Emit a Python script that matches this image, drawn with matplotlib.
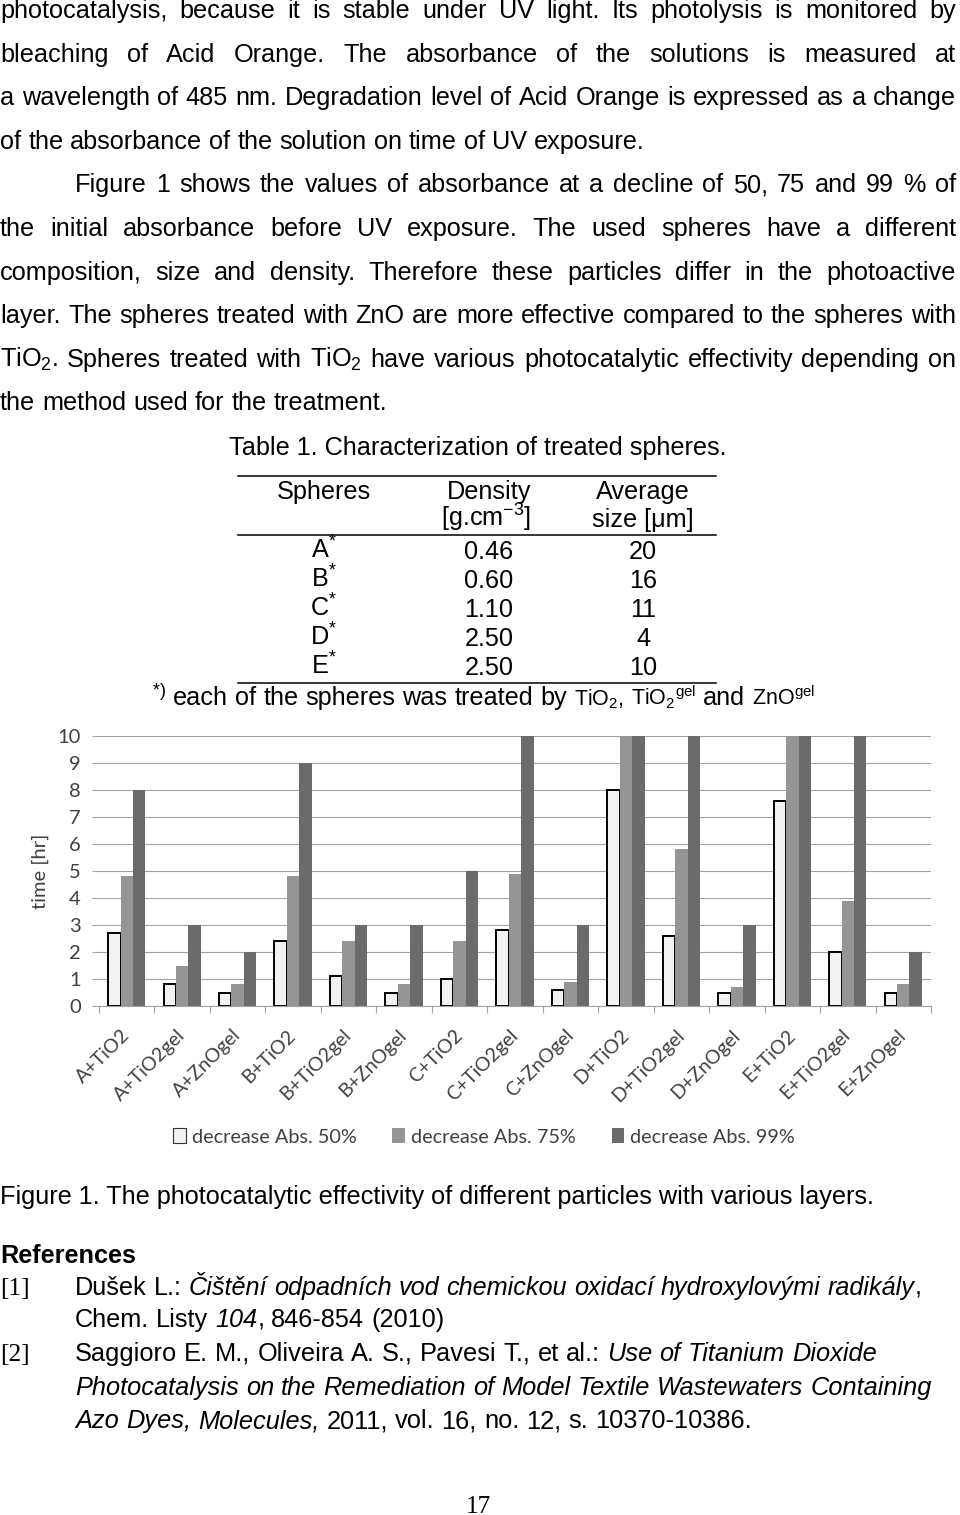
import matplotlib
matplotlib.use("Agg")
import matplotlib.pyplot as plt
from matplotlib import font_manager
from matplotlib.patches import Patch
import numpy as np

# ── data ────────────────────────────────────────────────────────────────────
categories = ["A+TiO2", "A+TiO2gel", "A+ZnOgel", "B+TiO2", "B+TiO2gel", "B+ZnOgel",
              "C+TiO2", "C+TiO2gel", "C+ZnOgel", "D+TiO2", "D+TiO2gel", "D+ZnOgel",
              "E+TiO2", "E+TiO2gel", "E+ZnOgel"]
abs50 = [2.7, 0.8, 0.5, 2.4, 1.1, 0.5, 1.0, 2.8, 0.6, 8.0, 2.6, 0.5, 7.6, 2.0, 0.5]
abs75 = [4.8, 1.5, 0.8, 4.8, 2.4, 0.8, 2.4, 4.9, 0.9, 10, 5.8, 0.7, 10, 3.9, 0.8]
abs99 = [8, 3, 2, 9, 3, 3, 5, 10, 3, 10, 10, 3, 10, 10, 2]
series_labels = ["decrease Abs. 50%", "decrease Abs. 75%", "decrease Abs. 99%"]
y_ticks = list(range(0, 11))

spheres = ["A", "B", "C", "D", "E"]
density = ["0.46", "0.60", "1.10", "2.50", "2.50"]
avg_size = ["20", "16", "11", "4", "10"]

body_lines = [
    "photocatalysis, because it is stable under UV light. Its photolysis is monitored by",
    "bleaching of Acid Orange. The absorbance of the solutions is measured at",
    "a wavelength of 485 nm. Degradation level of Acid Orange is expressed as a change",
    "of the absorbance of the solution on time of UV exposure.",
    "Figure 1 shows the values of absorbance at a decline of 50, 75 and 99 % of",
    "the initial absorbance before UV exposure. The used spheres have a different",
    "composition, size and density. Therefore these particles differ in the photoactive",
    "layer. The spheres treated with ZnO are more effective compared to the spheres with",
    "TiO$_2$. Spheres treated with TiO$_2$ have various photocatalytic effectivity depending on",
    "the method used for the treatment.",
]
body_indent = [0, 0, 0, 0, 75, 0, 0, 0, 0, 0]
body_justify = [True, True, True, False, True, True, True, True, True, False]

# ── setup ───────────────────────────────────────────────────────────────────
plt.rcParams["mathtext.fontset"] = "custom"
plt.rcParams["mathtext.rm"] = "Liberation Sans"
plt.rcParams["mathtext.it"] = "Liberation Sans:italic"
plt.rcParams["mathtext.default"] = "regular"


def has_font(name):
    try:
        font_manager.findfont(font_manager.FontProperties(family=name),
                              fallback_to_default=False)
        return True
    except ValueError:
        return False


NARROW = "Liberation Sans Narrow" if has_font("Liberation Sans Narrow") else "Liberation Sans"

FS = 18.2
BODY = dict(family="Liberation Sans", size=FS, color="black")
IT = dict(style="italic")
REG = {}

fig = plt.figure(figsize=(9.6, 15.15), dpi=100)
page = fig.add_axes([0, 0, 1, 1])
page.set_xlim(0, 960)
page.set_ylim(1515, 0)
page.axis("off")
R = fig.canvas.get_renderer()


def words_from_runs(runs):
    words = [[]]
    for text, kw in runs:
        parts = text.split(" ")
        for i, p in enumerate(parts):
            if i > 0:
                words.append([])
            if p:
                words[-1].append((p, kw))
    return [w for w in words if w]


def put_words(words, x0, y, x1=None, base=BODY, gap=None):
    objs, widths = [], []
    for w in words:
        wo, ww = [], 0.0
        for s, kw in w:
            t = page.text(0, y, s, va="baseline", ha="left", **{**base, **kw})
            wo.append((t, ww))
            ww += t.get_window_extent(renderer=R).width
        objs.append(wo)
        widths.append(ww)
    if x1 is not None and len(words) > 1:
        gap = (x1 - x0 - sum(widths)) / (len(words) - 1)
    elif gap is None:
        gap = base["size"] * 100 / 72 * 0.278
    x = x0
    for wo, ww in zip(objs, widths):
        for t, off in wo:
            t.set_x(x + off)
        x += ww + gap
    return x - gap


# ── body text ───────────────────────────────────────────────────────────────
for i, line in enumerate(body_lines):
    y = 18 + 43.6 * i
    put_words(words_from_runs([(line, REG)]), body_indent[i], y,
              x1=956 if body_justify[i] else None)

# ── table ───────────────────────────────────────────────────────────────────
page.text(478, 455, "Table 1. Characterization of treated spheres.", ha="center",
          va="baseline", **BODY)
for yr in (476, 535, 683):
    page.plot([238, 716], [yr, yr], color="black", lw=1.1)
col_x = [324, 489, 643]
page.text(col_x[0], 499, "Spheres", ha="center", va="baseline", **BODY)
page.text(col_x[1], 499, "Density", ha="center", va="baseline", **BODY)
page.text(col_x[2], 499, "Average", ha="center", va="baseline", **BODY)
page.text(486, 527, "[g.cm$^{-3}$]", ha="center", va="baseline", **BODY)
page.text(col_x[2], 527, "size [μm]", ha="center", va="baseline", **BODY)
for i, (s, d, a) in enumerate(zip(spheres, density, avg_size)):
    y = 559 + 29 * i
    page.text(col_x[0], y, s + "$^{*}$", ha="center", va="baseline", **BODY)
    page.text(col_x[1], y, d, ha="center", va="baseline", **BODY)
    page.text(col_x[2], y, a, ha="center", va="baseline", **BODY)

small = dict(size=15.5)
put_words(words_from_runs([("$^{*)}$", REG), (" each of the spheres was treated by ", REG),
                           ("TiO$_2$, TiO$_2$$^{gel}$", small), (" and ", REG),
                           ("ZnO$^{gel}$", small)]), 152, 705)

# ── chart ───────────────────────────────────────────────────────────────────
GRID = "#a3a3a3"
TXT = "#404040"
ax = fig.add_axes([99 / 960, (1515 - 1006) / 1515, 832 / 960, 270 / 1515])
x = np.arange(len(categories))
w = 0.224
ax.bar(x - w, abs50, w, color="#f2f2f2", edgecolor="black", lw=1.4)
ax.bar(x, abs75, w, color="#959595", lw=0)
ax.bar(x + w, abs99, w, color="#6b6b6b", lw=0)
ax.set_xlim(-0.5, len(categories) - 0.5)
ax.set_ylim(0, 10)
ax.set_yticks(y_ticks)
ax.yaxis.grid(True, color=GRID, lw=0.8)
ax.set_axisbelow(True)
for side in ("top", "right", "left"):
    ax.spines[side].set_visible(False)
ax.spines["bottom"].set_color(GRID)
ax.spines["bottom"].set_linewidth(0.8)
ax.tick_params(axis="y", length=5, width=0.8, color=GRID, pad=8,
               labelsize=14.5, labelcolor=TXT)
for lab in ax.get_yticklabels():
    lab.set_fontfamily("Lato")
ax.set_xticks(x)
ax.set_xticklabels(categories, rotation=45, ha="right", va="center",
                   rotation_mode="anchor", fontfamily="Lato", fontsize=14, color=TXT)
ax.tick_params(axis="x", which="major", length=0, pad=19)
ax.set_xticks(np.arange(-0.5, len(categories), 1), minor=True)
ax.tick_params(axis="x", which="minor", length=5, width=0.8, color=GRID)

page.text(40, 871, "time [hr]", rotation=90, ha="center", va="center",
          family="Lato", size=14.5, color=TXT)

handles = [Patch(facecolor="#f2f2f2", edgecolor="#333333", lw=0.8),
           Patch(facecolor="#959595", lw=0),
           Patch(facecolor="#6b6b6b", lw=0)]
fig.legend(handles, series_labels, loc="center", bbox_to_anchor=(484 / 960, 1 - 1137 / 1515),
           ncol=3, frameon=False, prop=dict(family="Lato", size=14.3), labelcolor=TXT,
           handlelength=0.65, handleheight=0.8, handletextpad=0.3, columnspacing=1.8)

# ── caption & references ────────────────────────────────────────────────────
page.text(0, 1204, "Figure 1. The photocatalytic effectivity of different particles with various layers.",
          va="baseline", **BODY)
page.text(0, 1263, "References", va="baseline", weight="bold", **BODY)
page.text(0, 1295, "[1]", va="baseline", family="Liberation Serif", size=FS)
put_words(words_from_runs([("Dušek L.: ", REG),
                           ("Čištění odpadních vod chemickou oxidací hydroxylovými radikály", IT),
                           (",", REG)]), 75, 1295)
put_words(words_from_runs([("Chem. Listy ", REG), ("104", IT), (", 846-854 (2010)", REG)]), 75, 1327)

# ref 2 is set in a narrower face; fit its full line to the printed width
probe = page.text(0, 0, "Photocatalysis on the Remediation of Model Textile Wastewaters Containing",
                  family=NARROW, size=FS, style="italic")
fs2 = FS * 855 / probe.get_window_extent(renderer=R).width
probe.remove()
REF2 = dict(family=NARROW, size=fs2, color="black")
page.text(0, 1361, "[2]", va="baseline", family="Liberation Serif", size=fs2)
put_words(words_from_runs([("Saggioro E. M., Oliveira A. S., Pavesi T., et al.: ", REG),
                           ("Use of Titanium Dioxide", IT)]), 75, 1361, base=REF2)
put_words(words_from_runs([("Photocatalysis on the Remediation of Model Textile Wastewaters Containing", IT)]),
          75, 1395, base=REF2)
put_words(words_from_runs([("Azo Dyes, Molecules,", IT), (" 2011, vol. 16, no. 12, s. 10370-10386.", REG)]),
          75, 1428, base=REF2)

page.text(478, 1513, "17", ha="center", va="baseline", family="Liberation Serif", size=FS)

fig.savefig("out.png", dpi=100)
